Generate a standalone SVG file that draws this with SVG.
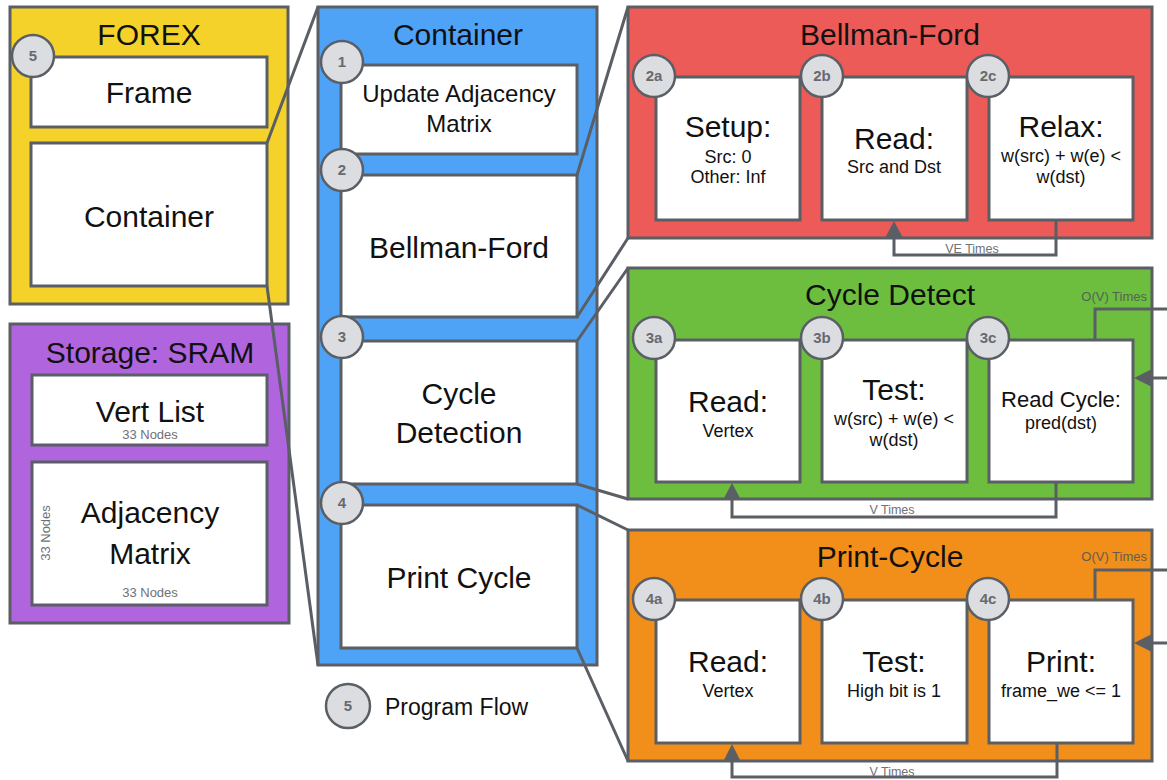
<svg xmlns="http://www.w3.org/2000/svg" width="1167" height="780" viewBox="0 0 1167 780">
<defs>
<style>
text{font-family:"Liberation Sans",Arial,Helvetica,sans-serif;fill:#111;}
.pan{stroke:#5a5e65;stroke-width:3;}
.box{fill:#fff;stroke:#5a5e65;stroke-width:3;}
.badge circle{fill:#dcdde0;stroke:#5a5e65;stroke-width:2.5;}
.badge text{font-size:15px;font-weight:bold;fill:#666a70;text-anchor:middle;}
.t30{font-size:30px;text-anchor:middle;}
.t24{font-size:24px;text-anchor:middle;}
.t22{font-size:22px;text-anchor:middle;}
.t18{font-size:18px;text-anchor:middle;}
.small{font-size:13px;fill:#6e7176;text-anchor:middle;}
.lbl{font-size:12.5px;fill:#6e7176;text-anchor:middle;}
.ov{font-size:13px;fill:#4f545a;text-anchor:end;opacity:0.85;}
.ln{fill:none;stroke:#5a5e65;stroke-width:3;}
.ah{fill:#5a5e65;}
</style>
</defs>

<!-- FOREX -->
<g id="forex">
<rect class="pan" x="10" y="7" width="278" height="297" fill="#f5d22a"/>
<text class="t30" x="149" y="45">FOREX</text>
<rect class="box" x="31" y="57" width="236" height="70"/>
<text class="t30" x="149" y="103">Frame</text>
<rect class="box" x="31" y="143" width="236" height="143"/>
<text class="t30" x="149" y="227">Container</text>
<g class="badge"><circle cx="33" cy="56" r="21"/><text x="33" y="61">5</text></g>
</g>

<!-- Storage -->
<g id="storage">
<rect class="pan" x="10" y="324" width="279" height="299" fill="#b065de"/>
<text class="t30" x="150" y="363">Storage: SRAM</text>
<rect class="box" x="32" y="375" width="235" height="70"/>
<text class="t30" x="150" y="422">Vert List</text>
<text class="small" x="150" y="439">33 Nodes</text>
<rect class="box" x="32" y="462" width="235" height="143"/>
<text class="t30" x="150" y="523">Adjacency</text>
<text class="t30" x="150" y="564">Matrix</text>
<text class="small" x="150" y="597">33 Nodes</text>
<text class="small" transform="translate(50,533) rotate(-90)">33 Nodes</text>
</g>

<!-- Container -->
<g id="container">
<rect class="pan" x="318" y="7" width="279" height="658" fill="#4fa3f7"/>
<text class="t30" x="458" y="45">Container</text>
<rect class="box" x="341" y="65" width="236" height="89"/>
<text class="t24" x="459" y="102">Update Adjacency</text>
<text class="t24" x="459" y="132">Matrix</text>
<rect class="box" x="341" y="175" width="236" height="142"/>
<text class="t30" x="459" y="258">Bellman-Ford</text>
<rect class="box" x="341" y="341" width="236" height="143"/>
<text class="t30" x="459" y="404">Cycle</text>
<text class="t30" x="459" y="443">Detection</text>
<rect class="box" x="341" y="505" width="236" height="143"/>
<text class="t30" x="459" y="588">Print Cycle</text>
<g class="badge"><circle cx="342" cy="62" r="21"/><text x="342" y="67">1</text></g>
<g class="badge"><circle cx="342" cy="170" r="21"/><text x="342" y="175">2</text></g>
<g class="badge"><circle cx="342" cy="337" r="21"/><text x="342" y="342">3</text></g>
<g class="badge"><circle cx="342" cy="503" r="21"/><text x="342" y="508">4</text></g>
</g>

<!-- Bellman-Ford -->
<g id="bellman-ford">
<rect class="pan" x="628" y="7" width="524" height="231" fill="#ec5b57"/>
<text class="t30" x="890" y="45">Bellman-Ford</text>
<rect class="box" x="656" y="77" width="144" height="143"/>
<text class="t30" x="728" y="137">Setup:</text>
<text class="t18" x="728" y="163">Src: 0</text>
<text class="t18" x="728" y="183">Other: Inf</text>
<rect class="box" x="822" y="77" width="145" height="143"/>
<text class="t30" x="894" y="149">Read:</text>
<text class="t18" x="894" y="173">Src and Dst</text>
<rect class="box" x="989" y="77" width="144" height="143"/>
<text class="t30" x="1061" y="137">Relax:</text>
<text class="t18" x="1061" y="162">w(src) + w(e) &lt;</text>
<text class="t18" x="1061" y="183">w(dst)</text>
<g class="badge"><circle cx="654" cy="76" r="21"/><text x="654" y="81">2a</text></g>
<g class="badge"><circle cx="822" cy="76" r="21"/><text x="822" y="81">2b</text></g>
<g class="badge"><circle cx="988" cy="76" r="21"/><text x="988" y="81">2c</text></g>
</g>

<!-- Cycle Detect -->
<g id="cycle-detect">
<rect class="pan" x="628" y="268" width="524" height="231" fill="#6dbe3f"/>
<text class="t30" x="890" y="305">Cycle Detect</text>
<text class="ov" x="1147" y="301">O(V) Times</text>
<rect class="box" x="656" y="340" width="144" height="142"/>
<text class="t30" x="728" y="412">Read:</text>
<text class="t18" x="728" y="437">Vertex</text>
<rect class="box" x="822" y="340" width="145" height="142"/>
<text class="t30" x="894" y="400">Test:</text>
<text class="t18" x="894" y="425">w(src) + w(e) &lt;</text>
<text class="t18" x="894" y="446">w(dst)</text>
<rect class="box" x="989" y="340" width="144" height="142"/>
<text class="t22" x="1061" y="407">Read Cycle:</text>
<text class="t18" x="1061" y="429">pred(dst)</text>
<g class="badge"><circle cx="654" cy="338" r="21"/><text x="654" y="343">3a</text></g>
<g class="badge"><circle cx="822" cy="338" r="21"/><text x="822" y="343">3b</text></g>
<g class="badge"><circle cx="988" cy="338" r="21"/><text x="988" y="343">3c</text></g>
</g>

<!-- Print-Cycle -->
<g id="print-cycle">
<rect class="pan" x="628" y="530" width="524" height="231" fill="#f18f1a"/>
<text class="t30" x="890" y="567">Print-Cycle</text>
<text class="ov" x="1147" y="561">O(V) Times</text>
<rect class="box" x="656" y="600" width="144" height="143"/>
<text class="t30" x="728" y="672">Read:</text>
<text class="t18" x="728" y="697">Vertex</text>
<rect class="box" x="822" y="600" width="145" height="143"/>
<text class="t30" x="894" y="672">Test:</text>
<text class="t18" x="894" y="697">High bit is 1</text>
<rect class="box" x="989" y="600" width="144" height="143"/>
<text class="t30" x="1061" y="672">Print:</text>
<text class="t18" x="1061" y="697">frame_we &lt;= 1</text>
<g class="badge"><circle cx="654" cy="599" r="21"/><text x="654" y="604">4a</text></g>
<g class="badge"><circle cx="822" cy="599" r="21"/><text x="822" y="604">4b</text></g>
<g class="badge"><circle cx="988" cy="599" r="21"/><text x="988" y="604">4c</text></g>
</g>

<!-- Legend -->
<g id="legend">
<g class="badge"><circle cx="348" cy="706" r="22"/><text x="348" y="711">5</text></g>
<text x="385" y="715" style="font-size:23px;">Program Flow</text>
</g>

<!-- Connectors -->
<g id="connectors">
<path class="ln" d="M267,143 L318,7 M267,286 L318,665"/>
<path class="ln" d="M577,175 L628,7 M577,317 L628,238"/>
<path class="ln" d="M577,341 L628,268 M577,484 L628,499"/>
<path class="ln" d="M577,505 L628,530 M577,648 L628,761"/>
<!-- VE loop -->
<path class="ln" d="M1056,220 L1056,255 L894,255 L894,236"/>
<polygon class="ah" points="894,221 885,238 903,238"/>
<text class="lbl" x="972" y="253">VE Times</text>
<!-- V loop cycle detect -->
<path class="ln" d="M1056,482 L1056,517 L732,517 L732,497"/>
<polygon class="ah" points="732,483 723,500 741,500"/>
<text class="lbl" x="892" y="514">V Times</text>
<!-- V loop print -->
<path class="ln" d="M1057,743 L1057,777 L732,777 L732,759"/>
<polygon class="ah" points="732,744 723,762 741,762"/>
<text class="lbl" x="892" y="776">V Times</text>
<!-- O(V) cycle detect -->
<path class="ln" d="M1095,340 L1095,309 L1167,309"/>
<path class="ln" d="M1167,378 L1150,378"/>
<polygon class="ah" points="1134,378 1152,369 1152,387"/>
<!-- O(V) print -->
<path class="ln" d="M1095,600 L1095,570 L1167,570"/>
<path class="ln" d="M1167,643 L1150,643"/>
<polygon class="ah" points="1134,643 1152,634 1152,652"/>
</g>
</svg>
